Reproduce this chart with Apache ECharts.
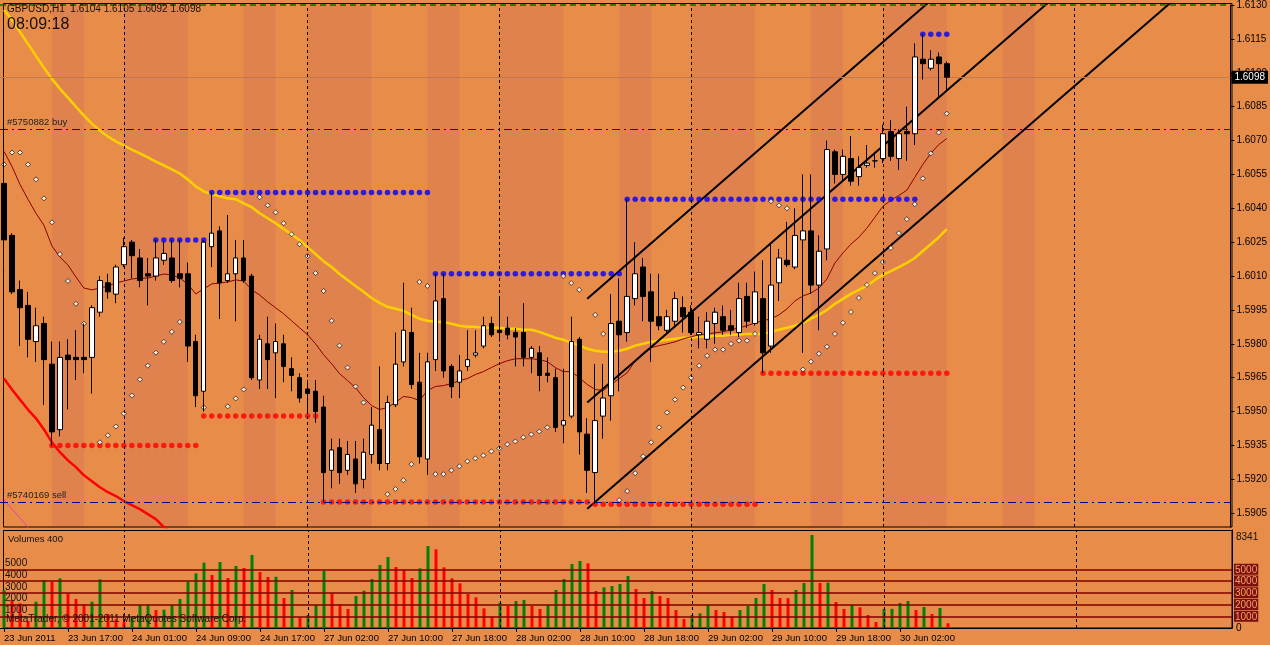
<!DOCTYPE html>
<html>
<head>
<meta charset="utf-8">
<title>GBPUSD,H1</title>
<script src="https://cdn.jsdelivr.net/npm/echarts@6/dist/echarts.min.js"></script>
<style>
  html, body { margin: 0; padding: 0; background: #E88C4A; }
  #chart { width: 1270px; height: 645px; }
</style>
</head>
<body>
<div id="chart"></div>
<script>
const font = 'Liberation Sans, Arial, sans-serif'

// hourly bars, 23 Jun 2011 09:00 .. 30 Jun 2011 08:00
const open = [1.6051,1.6028,1.6004,1.5997,1.5981,1.5989,1.5971,1.5942,1.5975,1.5974,1.5974,1.5974,1.5994,1.6007,1.6002,1.6015,1.6025,1.6018,1.6011,1.6010,
  1.6017,1.6018,1.6011,1.6011,1.5981,1.5959,1.6023,1.6030,1.6008,1.6011,1.6018,1.6010,1.5964,1.5980,1.5976,1.5980,1.5969,1.5965,1.5960,1.5959,
  1.5952,1.5924,1.5934,1.5924,1.5929,1.5920,1.5931,1.5942,1.5927,1.5953,1.5972,1.5985,1.5963,1.5929,1.5973,1.6000,1.5970,1.5963,1.5970,1.5975,
  1.5979,1.5989,1.5986,1.5987,1.5985,1.5985,1.5974,1.5976,1.5967,1.5965,1.5944,1.5948,1.5982,1.5940,1.5923,1.5948,1.5957,1.5990,1.5985,1.6000,
  1.6014,1.6003,1.5992,1.5986,1.5990,1.5996,1.5994,1.5984,1.5982,1.5989,1.5992,1.5988,1.5985,1.6001,1.5989,1.6000,1.5979,1.6007,1.6017,1.6014,
  1.6026,1.6030,1.6006,1.6022,1.6065,1.6055,1.6062,1.6054,1.6059,1.6061,1.6062,1.6074,1.6062,1.6074,1.6073,1.6106,1.6102,1.6107,1.6104]
const high = [1.6061,1.6029,1.6008,1.6003,1.5996,1.5992,1.5981,1.5981,1.5982,1.5986,1.5989,1.5997,1.6010,1.6011,1.6015,1.6027,1.6026,1.6022,1.6018,1.6026,
  1.6025,1.6026,1.6026,1.6016,1.5984,1.6026,1.6047,1.6032,1.6037,1.6026,1.6026,1.6011,1.5984,1.5992,1.5989,1.5984,1.5974,1.5967,1.5964,1.5964,
  1.5957,1.5938,1.5938,1.5937,1.5937,1.5938,1.5952,1.5970,1.5957,1.5985,1.6007,1.5996,1.5976,1.5976,1.6011,1.6011,1.5971,1.5975,1.5986,1.5986,
  1.5992,1.5992,1.6001,1.5992,1.5987,1.5998,1.5979,1.5979,1.5974,1.5969,1.5969,1.5992,1.5983,1.5947,1.5971,1.5971,1.6002,1.6009,1.6044,1.6025,
  1.6018,1.6011,1.6011,1.5995,1.6003,1.6001,1.5997,1.5992,1.5994,1.5996,1.5997,1.5995,1.6007,1.6007,1.6012,1.6017,1.6024,1.6022,1.6034,1.6040,
  1.6055,1.6055,1.6028,1.6070,1.6066,1.6066,1.6072,1.6063,1.6068,1.6065,1.6077,1.6079,1.6075,1.6085,1.6113,1.6117,1.6110,1.6109,1.6105]
const low = [1.6015,1.6002,1.5979,1.5974,1.5972,1.5953,1.5935,1.5939,1.5951,1.5964,1.5967,1.5958,1.5992,1.6000,1.5998,1.6014,1.6009,1.6005,1.5997,1.6008,
  1.6015,1.6007,1.6005,1.5972,1.5952,1.5950,1.6014,1.5991,1.6007,1.5990,1.6007,1.5964,1.5960,1.5960,1.5956,1.5963,1.5959,1.5954,1.5949,1.5945,
  1.5910,1.5916,1.5918,1.5922,1.5914,1.5916,1.5927,1.5924,1.5924,1.5952,1.5970,1.5960,1.5927,1.5922,1.5968,1.5965,1.5956,1.5956,1.5968,1.5974,
  1.5978,1.5983,1.5981,1.5982,1.5970,1.5970,1.5967,1.5959,1.5963,1.5941,1.5936,1.5947,1.5931,1.5914,1.5909,1.5938,1.5946,1.5959,1.5981,1.5997,
  1.5990,1.5972,1.5986,1.5984,1.5988,1.5985,1.5984,1.5978,1.5978,1.5980,1.5984,1.5984,1.5983,1.5987,1.5988,1.5967,1.5976,1.5999,1.6014,1.6013,
  1.5976,1.6002,1.5986,1.6017,1.6051,1.6052,1.6050,1.6050,1.6058,1.6058,1.6060,1.6061,1.6057,1.6061,1.6068,1.6097,1.6101,1.6089,1.6092]
const close = [1.6026,1.6003,1.5996,1.5982,1.5988,1.5973,1.5941,1.5974,1.5973,1.5973,1.5973,1.5996,1.6008,1.6003,1.6014,1.6023,1.6019,1.6008,1.6010,1.6018,
  1.6020,1.6008,1.6009,1.5979,1.5957,1.6025,1.6029,1.6007,1.6011,1.6018,1.6008,1.5965,1.5982,1.5973,1.5981,1.5970,1.5966,1.5956,1.5958,1.5950,
  1.5923,1.5933,1.5923,1.5931,1.5918,1.5932,1.5944,1.5927,1.5954,1.5971,1.5986,1.5962,1.5930,1.5972,1.5999,1.5968,1.5961,1.5968,1.5973,1.5976,
  1.5988,1.5984,1.5985,1.5984,1.5983,1.5974,1.5978,1.5966,1.5966,1.5943,1.5946,1.5981,1.5941,1.5924,1.5946,1.5956,1.5989,1.5984,1.6001,1.6011,
  1.6001,1.5990,1.5988,1.5992,1.6000,1.5992,1.5985,1.5985,1.5990,1.5994,1.5986,1.5986,1.6000,1.5990,1.6003,1.5976,1.6006,1.6018,1.6015,1.6028,
  1.6030,1.6006,1.6021,1.6066,1.6055,1.6063,1.6052,1.6058,1.6060,1.6061,1.6073,1.6063,1.6073,1.6073,1.6107,1.6104,1.6106,1.6104,1.6098]

const volumes = [3234,2383,2099,600,2241,4085,3943,4227,2950,2468,2014,2241,4142,1191,738,500,800,1957,1990,1532,
  1560,1957,2468,3943,4653,5560,4510,5617,4255,5276,5106,6212,4766,4340,4360,2553,3234,879,1106,1957,
  4851,2950,2014,1617,2723,3177,4170,5361,6042,5191,4964,4255,5077,6978,6696,5163,4227,3801,2893,2610,
  1673,965,2156,1872,2298,2383,1872,1617,1957,3234,4170,5446,5702,5503,3149,3460,3574,3744,4425,3319,
  2553,3149,2723,2553,1532,766,1106,1248,1957,1532,1362,965,1532,1872,2553,3744,3234,2553,2540,3234,
  3830,7914,3830,3860,2213,1617,1957,1759,1106,511,1617,1630,2128,2298,1532,1787,1191,1702,400]

// slow moving average (yellow)
const maSlow = [1.61278,1.61234,1.61181,1.61128,1.61075,1.61022,1.60973,1.60929,1.60890,1.60850,1.60810,1.60775,1.60744,1.60718,1.60696,1.60678,1.60660,1.60643,1.60625,1.60607,
  1.60590,1.60572,1.60554,1.60528,1.60497,1.60475,1.60462,1.60453,1.60444,1.60440,1.60422,1.60405,1.60378,1.60356,1.60334,1.60308,1.60285,1.60259,1.60228,1.60197,
  1.60166,1.60140,1.60109,1.60083,1.60056,1.60030,1.60003,1.59981,1.59964,1.59955,1.59946,1.59928,1.59911,1.59902,1.59897,1.59897,1.59889,1.59880,1.59875,1.59875,
  1.59871,1.59871,1.59871,1.59867,1.59867,1.59862,1.59862,1.59853,1.59840,1.59827,1.59818,1.59805,1.59792,1.59778,1.59769,1.59765,1.59765,1.59769,1.59778,1.59792,
  1.59800,1.59809,1.59814,1.59818,1.59822,1.59827,1.59827,1.59831,1.59831,1.59836,1.59836,1.59840,1.59840,1.59844,1.59844,1.59844,1.59853,1.59862,1.59871,1.59880,
  1.59893,1.59911,1.59928,1.59950,1.59977,1.59999,1.60021,1.60039,1.60056,1.60083,1.60105,1.60122,1.60140,1.60158,1.60180,1.60211,1.60241,1.60272,1.60308]
// fast moving average (thin dark red)
const maFast = [1.60652,1.60585,1.60506,1.60440,1.60378,1.60325,1.60233,1.60184,1.60149,1.60096,1.60047,1.60039,1.60047,1.60056,1.60069,1.60078,1.60087,1.60091,1.60091,1.60100,
  1.60109,1.60105,1.60091,1.60065,1.60021,1.60043,1.60065,1.60069,1.60074,1.60083,1.60078,1.60039,1.60016,1.59986,1.59959,1.59933,1.59902,1.59871,1.59840,1.59800,
  1.59752,1.59712,1.59668,1.59637,1.59606,1.59562,1.59527,1.59509,1.59518,1.59540,1.59567,1.59562,1.59549,1.59593,1.59611,1.59615,1.59624,1.59637,1.59646,1.59664,
  1.59677,1.59695,1.59712,1.59725,1.59734,1.59734,1.59734,1.59730,1.59721,1.59695,1.59677,1.59677,1.59650,1.59620,1.59598,1.59593,1.59620,1.59646,1.59672,1.59725,
  1.59761,1.59783,1.59792,1.59800,1.59809,1.59822,1.59831,1.59840,1.59844,1.59849,1.59853,1.59862,1.59871,1.59880,1.59893,1.59902,1.59911,1.59928,1.59955,1.59990,
  1.60012,1.60025,1.60047,1.60087,1.60158,1.60202,1.60241,1.60272,1.60312,1.60360,1.60409,1.60435,1.60457,1.60480,1.60537,1.60594,1.60643,1.60682,1.60709]
// long averages, only their first bars fall inside the window
const maRed = [1.59646,1.59598,1.59553,1.59509,1.59470,1.59421,1.59364,1.59320,1.59284,1.59254,1.59218,1.59192,1.59165,1.59143,1.59126,1.59104,1.59086,1.59068,1.59046,1.59024,1.58989,1.58962,1.58940]
const maPink = [1.59108,1.59068,1.59029,1.58989,1.58949]

// parabolic SAR, null where no dot is visible
const sar = [1.60594,1.60647,1.60647,1.60594,1.60528,1.60444,1.60338,1.60197,1.60078,1.59977,1.59889,null,1.59364,1.59395,1.59434,1.59492,1.59571,1.59642,1.59703,1.59761,
  1.59809,1.59853,1.59897,null,null,1.59518,null,null,1.59523,1.59558,1.59598,null,1.60449,1.60413,1.60382,1.60334,1.60285,1.60241,1.60188,1.60113,
  1.60034,1.59902,1.59792,1.59695,1.59611,1.59540,null,null,1.59134,1.59157,1.59196,1.59267,1.60074,1.60056,1.59223,1.59223,1.59240,1.59258,1.59280,1.59293,
  1.59306,1.59324,1.59337,1.59355,1.59368,1.59386,1.59399,1.59412,1.59430,null,1.60100,1.60069,1.60039,null,1.59928,1.59844,null,1.59108,1.59148,1.59227,
  1.59302,1.59364,1.59430,1.59496,1.59553,1.59606,1.59650,1.59703,1.59747,1.59774,1.59774,1.59800,1.59814,1.59814,1.59844,null,1.60431,1.60413,1.60400,null,
  1.59686,1.59721,1.59756,1.59787,1.59844,1.59893,1.59941,1.60003,1.60061,1.60113,1.60162,1.60224,1.60290,1.60352,1.60418,1.60532,1.60643,1.60735,1.60819]

// fractal levels: [first bar, last bar, price]
const resistLevels = [[19, 25, 1.6026], [26, 53, 1.6047], [54, 77, 1.6011], [78, 114, 1.6044], [115, 118, 1.6117]]
const supportLevels = [[6, 24, 1.5935], [25, 39, 1.5948], [40, 73, 1.5910], [74, 94, 1.5909], [95, 118, 1.5967]]

// trend channel: [bar, price] end points
const channelTop = [[73, 1.6000], [116, 1.6132]]
const channelMid = [[73, 1.5954], [131, 1.6132]]
const channelLow = [[73, 1.5907], [146, 1.6131]]

const bidPrice = 1.6098
const buyOrder = 1.6075
const sellOrder = 1.5910
const takeProfit = 1.6130

const priceTicks = [1.5905, 1.5920, 1.5935, 1.5950, 1.5965, 1.5980, 1.5995, 1.6010, 1.6025, 1.6040, 1.6055, 1.6070, 1.6085, 1.6100, 1.6115, 1.6130]
const volumeLevels = [1000, 2000, 3000, 4000, 5000]
const timeLabels = ['23 Jun 2011', '23 Jun 17:00', '24 Jun 01:00', '24 Jun 09:00', '24 Jun 17:00', '27 Jun 02:00', '27 Jun 10:00',
  '27 Jun 18:00', '28 Jun 02:00', '28 Jun 10:00', '28 Jun 18:00', '29 Jun 02:00', '29 Jun 10:00', '29 Jun 18:00', '30 Jun 02:00']

// session shading (bar ranges) and day separators (midnight bars)
const darkBands = [[6, 10], [15, 23], [30, 34], [38, 46], [53, 57], [62, 70], [77, 81], [86, 94], [101, 105], [110, 118], [125, 129]]
const daySeps = [15, 38, 62, 86, 110, 134]

const slots = 154 // visible bar slots including empty space on the right
const cats = []
for (let i = 0; i < slots; i++) cats.push(String(i))

const candles = open.map((o, i) => [o, close[i], low[i], high[i]])
const sarDots = []
sar.forEach((v, i) => { if (v !== null) sarDots.push([i, v]) })

function levelDots(levels) {
  const out = []
  for (const [a, b, p] of levels) {
    for (let i = a; i <= b; i++) out.push([i, p])
  }
  return out
}

const showTick = (i) => i % 8 === 0 && i < open.length
const vLines = daySeps.map(i => ({ xAxis: i, lineStyle: { color: '#000', type: [3, 3], width: 1 }, label: { show: false } }))
const orderLabel = { show: true, position: 'insideStartTop', distance: [7, 2], color: '#222', fontSize: 9.5, fontFamily: font }

const chart = echarts.init(document.getElementById('chart'), null, { renderer: 'canvas' })
chart.setOption({
  animation: false,
  backgroundColor: '#E88C4A',
  textStyle: { fontFamily: font },
  title: {
    text: 'GBPUSD,H1  1.6104 1.6105 1.6092 1.6098',
    subtext: '08:09:18',
    left: 7,
    top: 4,
    padding: 0,
    itemGap: 3,
    textStyle: { fontSize: 10, fontWeight: 'normal', color: '#111', fontFamily: font },
    subtextStyle: { fontSize: 16, color: '#111', fontFamily: font }
  },
  graphic: [
    { type: 'rect', z: 3, silent: true, shape: { x: 3.5, y: 3.5, width: 1228.5, height: 523.5 }, style: { fill: null, stroke: '#000', lineWidth: 1 } },
    { type: 'rect', z: 3, silent: true, shape: { x: 3.5, y: 530.5, width: 1228.5, height: 97.5 }, style: { fill: null, stroke: '#000', lineWidth: 1 } },
    { type: 'text', z: 10, left: 8, top: 534, style: { text: 'Volumes 400', fontSize: 9.5, fill: '#111', fontFamily: font } },
    { type: 'text', z: 10, left: 6, top: 614, style: { text: 'MetaTrader, © 2001-2011 MetaQuotes Software Corp.', fontSize: 10, fill: '#111', fontFamily: font } },
    { type: 'text', z: 10, left: 1236, top: 532, style: { text: '8341', fontSize: 10, fill: '#111', fontFamily: font } }
  ],
  grid: [
    { left: 0, right: 38, top: 3, height: 524 },
    { left: 0, right: 38, top: 530, height: 98 }
  ],
  xAxis: [
    { type: 'category', gridIndex: 0, data: cats, boundaryGap: true, show: false },
    {
      type: 'category', gridIndex: 1, data: cats, boundaryGap: true,
      axisLine: { show: true, lineStyle: { color: '#000', width: 1 } },
      axisTick: { show: true, interval: showTick, alignWithLabel: true, length: 4, lineStyle: { color: '#000' } },
      axisLabel: {
        interval: showTick, align: 'left', margin: 5, fontSize: 9.5, color: '#000', fontFamily: font,
        formatter: (v, i) => timeLabels[i / 8] || ''
      },
      splitLine: { show: false }
    }
  ],
  yAxis: [
    {
      type: 'value', gridIndex: 0, position: 'right', min: 1.58989, max: 1.6130,
      splitLine: { show: false },
      axisLine: { show: true, lineStyle: { color: '#000' } },
      axisTick: { show: true, length: 4, customValues: priceTicks, lineStyle: { color: '#000' } },
      axisLabel: {
        customValues: priceTicks, margin: 6, fontSize: 10, color: '#000', fontFamily: font,
        formatter: v => v.toFixed(4)
      }
    },
    {
      type: 'value', gridIndex: 1, position: 'right', min: 0, max: 8341,
      splitLine: { show: false },
      axisLine: { show: true, lineStyle: { color: '#000' } },
      axisTick: { show: false },
      axisLabel: {
        customValues: [0].concat(volumeLevels), margin: 2, fontFamily: font,
        formatter: v => v === 0 ? '{z|0}' : '{b|' + v + '}',
        rich: {
          b: { backgroundColor: '#7E0F0F', color: '#F2A066', fontSize: 10, padding: [1, 1, 0, 1], fontFamily: font },
          z: { color: '#000', fontSize: 10, padding: [0, 0, 0, 2], fontFamily: font }
        }
      }
    }
  ],
  series: [
    {
      name: 'maSlow', type: 'line', xAxisIndex: 0, yAxisIndex: 0, z: 3,
      data: maSlow, showSymbol: false, silent: true,
      lineStyle: { color: '#FFD000', width: 2.5 },
      markArea: {
        silent: true,
        itemStyle: { color: '#E0824E' },
        data: darkBands.map(([a, b]) => [{ xAxis: a }, { xAxis: b }])
      },
      markLine: {
        silent: true, symbol: ['none', 'none'], animation: false, precision: 5,
        data: vLines.concat([
          {
            yAxis: bidPrice, lineStyle: { color: '#7B8CA3', type: 'solid', width: 1.2 },
            label: {
              show: true, position: 'end', distance: 1, formatter: bidPrice.toFixed(4),
              backgroundColor: '#000', color: '#FFF', padding: [2, 3, 1, 3], fontSize: 10, fontFamily: font
            }
          },
          { yAxis: buyOrder, lineStyle: { color: '#0000FF', type: [8, 4, 2, 4], width: 1.2 }, label: Object.assign({ formatter: '#5750882 buy' }, orderLabel) },
          { yAxis: sellOrder, lineStyle: { color: '#00008B', type: [8, 4, 2, 4], width: 1.2 }, label: Object.assign({ formatter: '#5740169 sell' }, orderLabel) },
          { yAxis: takeProfit, lineStyle: { color: '#0A6A0A', type: [6, 4], width: 1.5 }, label: { show: false } }
        ])
      }
    },
    {
      name: 'maFast', type: 'line', xAxisIndex: 0, yAxisIndex: 0, z: 3,
      data: maFast, showSymbol: false, silent: true,
      lineStyle: { color: '#8B0000', width: 1 }
    },
    {
      name: 'maRed', type: 'line', xAxisIndex: 0, yAxisIndex: 0, z: 3,
      data: maRed, showSymbol: false, silent: true,
      lineStyle: { color: '#FF0000', width: 2.5 }
    },
    {
      name: 'maPink', type: 'line', xAxisIndex: 0, yAxisIndex: 0, z: 3,
      data: maPink, showSymbol: false, silent: true,
      lineStyle: { color: '#F03CA8', width: 1 }
    },
    {
      name: 'resistance', type: 'scatter', xAxisIndex: 0, yAxisIndex: 0, z: 4, silent: true,
      data: levelDots(resistLevels), symbol: 'circle', symbolSize: 5.5,
      itemStyle: { color: '#0000FF' }
    },
    {
      name: 'support', type: 'scatter', xAxisIndex: 0, yAxisIndex: 0, z: 4, silent: true,
      data: levelDots(supportLevels), symbol: 'circle', symbolSize: 5.5,
      itemStyle: { color: '#FF0000' }
    },
    {
      name: 'sar', type: 'scatter', xAxisIndex: 0, yAxisIndex: 0, z: 4, silent: true,
      data: sarDots, symbol: 'diamond', symbolSize: 5,
      itemStyle: { color: '#FFFFFF', borderColor: '#000', borderWidth: 0.8 }
    },
    {
      name: 'channelTop', type: 'line', xAxisIndex: 0, yAxisIndex: 0, z: 4, silent: true,
      data: channelTop, showSymbol: false, lineStyle: { color: '#000', width: 2 }
    },
    {
      name: 'channelMid', type: 'line', xAxisIndex: 0, yAxisIndex: 0, z: 4, silent: true,
      data: channelMid, showSymbol: false, lineStyle: { color: '#000', width: 2 }
    },
    {
      name: 'channelLow', type: 'line', xAxisIndex: 0, yAxisIndex: 0, z: 4, silent: true,
      data: channelLow, showSymbol: false, lineStyle: { color: '#000', width: 2 }
    },
    {
      name: 'GBPUSD', type: 'candlestick', xAxisIndex: 0, yAxisIndex: 0, z: 5, silent: true,
      data: candles, barWidth: 5,
      itemStyle: {
        color: '#FFFFFF', color0: '#000000',
        borderColor: '#000000', borderColor0: '#000000', borderColorDoji: '#000000', borderWidth: 1
      }
    },
    {
      name: 'Volumes', type: 'bar', xAxisIndex: 1, yAxisIndex: 1, z: 4, silent: true,
      data: volumes, barWidth: 3,
      itemStyle: {
        color: p => (p.dataIndex === 0 || volumes[p.dataIndex] > volumes[p.dataIndex - 1]) ? '#008000' : '#FF0000'
      },
      markLine: {
        silent: true, symbol: ['none', 'none'], animation: false,
        data: vLines.concat(
          volumeLevels.map(v => ({
            yAxis: v,
            lineStyle: { color: '#800000', type: 'solid', width: 1.5 },
            label: { show: true, position: 'insideStartTop', distance: [5, 1], formatter: String(v), color: '#111', fontSize: 10, fontFamily: font }
          }))
        )
      }
    }
  ]
})
</script>
</body>
</html>
